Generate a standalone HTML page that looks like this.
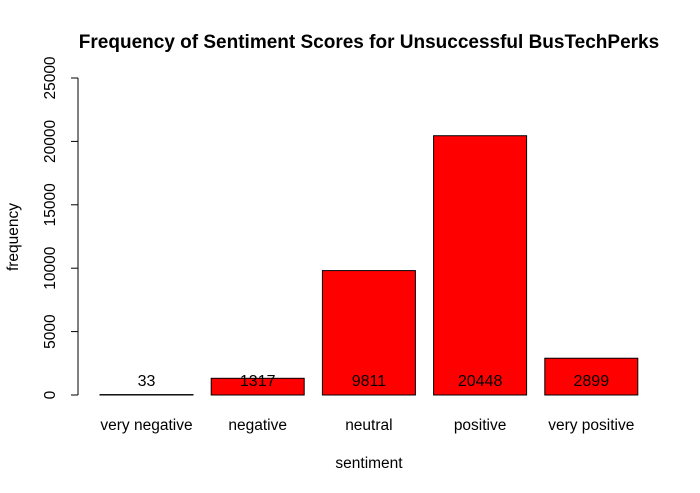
<!DOCTYPE html>
<html><head><meta charset="utf-8"><style>body{margin:0;background:#fff}svg{display:block;font-family:"Liberation Sans",sans-serif}</style></head>
<body>
<svg id="chart" width="700" height="493">
<text x="369" y="48" text-anchor="middle" font-weight="bold" font-size="19">Frequency of Sentiment Scores for Unsuccessful BusTechPerks</text>
<text x="369" y="468" text-anchor="middle" font-size="15.5">sentiment</text>
<text transform="translate(18,237) rotate(-90)" text-anchor="middle" font-size="15.5">frequency</text>
<g id="yaxis"></g><g id="bars"></g>
</svg>
<script>
const categories=["very negative","negative","neutral","positive","very positive"];
const values=[33,1317,9811,20448,2899];
const yTicks=[0,5000,10000,15000,20000,25000];
const NS="http://www.w3.org/2000/svg";
function y(v){return 395-v*(317/25000);}
function x(i){return 100+i*111.2;}
const bw=93;
function mk(t,a,p){const e=document.createElementNS(NS,t);for(const k in a)e.setAttribute(k,a[k]);p.appendChild(e);return e;}
const ya=document.getElementById('yaxis'),bg=document.getElementById('bars');
const axl=mk('line',{x1:78,x2:78,y1:y(0),y2:y(25000),stroke:'#000'},ya);


yTicks.forEach(t=>{
 const l=mk('line',{x1:71,x2:78,y1:y(t),y2:y(t),stroke:'#000'},ya);
 
 
 const tx=mk('text',{transform:`translate(55,${y(t)}) rotate(-90)`,'text-anchor':'middle','font-size':15.5},ya);
 tx.textContent=t;
 
 
});
values.forEach((v,i)=>{
 const r=mk('rect',{x:x(i),y:y(v),width:bw,height:y(0)-y(v),fill:'#ff0000',stroke:'#000'},bg);
 
 
 const vt=mk('text',{x:x(i)+bw/2,y:386,'text-anchor':'middle','font-size':16},bg);
 vt.textContent=v;
 
 
 const ct=mk('text',{x:x(i)+bw/2,y:430,'text-anchor':'middle','font-size':15.5},bg);
 ct.textContent=categories[i];
 
 
});
</script>
</body></html>
